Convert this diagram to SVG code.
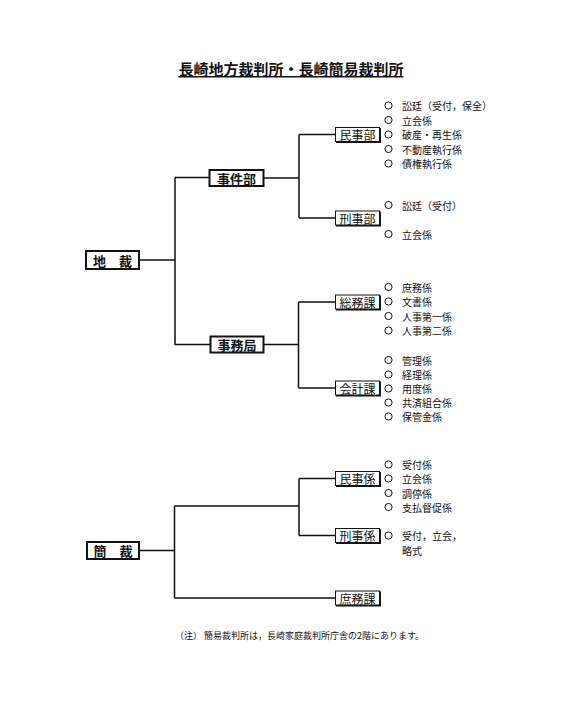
<svg xmlns="http://www.w3.org/2000/svg" width="567" height="722" viewBox="0 0 567 722">
<style>
text{font-family:"Noto Sans CJK JP","Noto Sans CJK SC",sans-serif;fill:#111;}
.title{font-size:15px;font-weight:bold;text-decoration:underline;}
.big{font-size:13px;font-weight:bold;}
.box{font-size:12px;}
.it{font-size:10px;}
.note{font-size:9px;}
.bb{fill:#fff;stroke:#111;stroke-width:2;}
.sb{fill:#fff;stroke:#111;stroke-width:1;}
.sh{fill:none;stroke:#111;stroke-width:1.5;}
.c{fill:#fff;stroke:#111;stroke-width:1;}
#connectors path{fill:none;stroke:#111;stroke-width:1.5;}
</style>
<rect width="567" height="722" fill="#fff"/>
<text class="title" x="291" y="75" text-anchor="middle">長崎地方裁判所・長崎簡易裁判所</text>

<g id="connectors">
<path d="M139 260H175M175 177.5V345M175 177.5H209.5M175 344.5H210.5"/>
<path d="M263.5 178H299M299 134.5V218M299 134.5H335.5M299 218H335.5"/>
<path d="M263.5 344.5H298.5M298.5 302V388M298.5 302H335.5M298.5 388H335.5"/>
<path d="M139 550.5H174.5M174.5 506V598M174.5 506H299M299 478.5V535.5M299 478.5H335.5M299 535.5H335.5M174.5 598H335.5"/>
</g>

<g id="chisai"><rect class="bb" x="86" y="251" width="53" height="18"/><text class="big" x="112.5" y="260" text-anchor="middle" dominant-baseline="central">地　裁</text></g>
<g id="jikenbu"><rect class="bb" x="209.5" y="170" width="54" height="16"/><text class="big" x="236.5" y="178" text-anchor="middle" dominant-baseline="central">事件部</text></g>
<g id="jimukyoku"><rect class="bb" x="210.5" y="336.5" width="53" height="16"/><text class="big" x="237" y="344.5" text-anchor="middle" dominant-baseline="central">事務局</text></g>
<g id="kansai"><rect class="bb" x="87" y="542" width="52" height="17"/><text class="big" x="113" y="550.5" text-anchor="middle" dominant-baseline="central">簡　裁</text></g>

<g id="minjibu"><rect class="sb" x="335.5" y="127.5" width="44" height="14"/><path class="sh" d="M336 142.2H380.2V128"/><text class="box" x="357.5" y="134.5" text-anchor="middle" dominant-baseline="central">民事部</text></g>
<g id="keijibu"><rect class="sb" x="335.5" y="211" width="44" height="14"/><path class="sh" d="M336 225.7H380.2V211.5"/><text class="box" x="357.5" y="218" text-anchor="middle" dominant-baseline="central">刑事部</text></g>
<g id="somuka"><rect class="sb" x="335.5" y="295" width="44" height="14"/><path class="sh" d="M336 309.7H380.2V295.5"/><text class="box" x="357.5" y="302" text-anchor="middle" dominant-baseline="central">総務課</text></g>
<g id="kaikeika"><rect class="sb" x="335.5" y="381" width="44" height="14"/><path class="sh" d="M336 395.7H380.2V381.5"/><text class="box" x="357.5" y="388" text-anchor="middle" dominant-baseline="central">会計課</text></g>
<g id="minjigakari"><rect class="sb" x="335.5" y="471.5" width="44" height="14"/><path class="sh" d="M336 486.2H380.2V472"/><text class="box" x="357.5" y="478.5" text-anchor="middle" dominant-baseline="central">民事係</text></g>
<g id="keijigakari"><rect class="sb" x="335.5" y="528.5" width="44" height="14"/><path class="sh" d="M336 543.2H380.2V529"/><text class="box" x="357.5" y="535.5" text-anchor="middle" dominant-baseline="central">刑事係</text></g>
<g id="shomuka"><rect class="sb" x="335.5" y="591" width="44" height="14"/><path class="sh" d="M336 605.7H380.2V591.5"/><text class="box" x="357.5" y="598" text-anchor="middle" dominant-baseline="central">庶務課</text></g>

<g id="items-minjibu">
<circle class="c" cx="388.5" cy="105.5" r="3.6"/><text class="it" x="402" y="105.5" dominant-baseline="central">訟廷（受付，保全）</text>
<circle class="c" cx="388.5" cy="120" r="3.6"/><text class="it" x="402" y="120" dominant-baseline="central">立会係</text>
<circle class="c" cx="388.5" cy="134.5" r="3.6"/><text class="it" x="402" y="134.5" dominant-baseline="central">破産・再生係</text>
<circle class="c" cx="388.5" cy="149" r="3.6"/><text class="it" x="402" y="149" dominant-baseline="central">不動産執行係</text>
<circle class="c" cx="388.5" cy="163.5" r="3.6"/><text class="it" x="402" y="163.5" dominant-baseline="central">債権執行係</text>
</g>
<g id="items-keijibu">
<circle class="c" cx="388.5" cy="205" r="3.6"/><text class="it" x="402" y="205" dominant-baseline="central">訟廷（受付）</text>
<circle class="c" cx="388.5" cy="234" r="3.6"/><text class="it" x="402" y="234" dominant-baseline="central">立会係</text>
</g>
<g id="items-somuka">
<circle class="c" cx="388.5" cy="287" r="3.6"/><text class="it" x="402" y="287" dominant-baseline="central">庶務係</text>
<circle class="c" cx="388.5" cy="301.5" r="3.6"/><text class="it" x="402" y="301.5" dominant-baseline="central">文書係</text>
<circle class="c" cx="388.5" cy="316" r="3.6"/><text class="it" x="402" y="316" dominant-baseline="central">人事第一係</text>
<circle class="c" cx="388.5" cy="330.5" r="3.6"/><text class="it" x="402" y="330.5" dominant-baseline="central">人事第二係</text>
</g>
<g id="items-kaikeika">
<circle class="c" cx="388.5" cy="360" r="3.6"/><text class="it" x="402" y="360" dominant-baseline="central">管理係</text>
<circle class="c" cx="388.5" cy="374.5" r="3.6"/><text class="it" x="402" y="374.5" dominant-baseline="central">経理係</text>
<circle class="c" cx="388.5" cy="388.5" r="3.6"/><text class="it" x="402" y="388.5" dominant-baseline="central">用度係</text>
<circle class="c" cx="388.5" cy="402.5" r="3.6"/><text class="it" x="402" y="402.5" dominant-baseline="central">共済組合係</text>
<circle class="c" cx="388.5" cy="416.5" r="3.6"/><text class="it" x="402" y="416.5" dominant-baseline="central">保管金係</text>
</g>
<g id="items-minjigakari">
<circle class="c" cx="388.5" cy="464.5" r="3.6"/><text class="it" x="402" y="464.5" dominant-baseline="central">受付係</text>
<circle class="c" cx="388.5" cy="478.5" r="3.6"/><text class="it" x="402" y="478.5" dominant-baseline="central">立会係</text>
<circle class="c" cx="388.5" cy="493" r="3.6"/><text class="it" x="402" y="493" dominant-baseline="central">調停係</text>
<circle class="c" cx="388.5" cy="507" r="3.6"/><text class="it" x="402" y="507" dominant-baseline="central">支払督促係</text>
</g>
<g id="items-keijigakari">
<circle class="c" cx="388.5" cy="535.5" r="3.6"/><text class="it" x="402" y="535.5" dominant-baseline="central">受付，立会，</text>
<text class="it" x="402" y="550.5" dominant-baseline="central">略式</text>
</g>

<text class="note" x="175" y="635" dominant-baseline="central">（注）  簡易裁判所は，長崎家庭裁判所庁舎の2階にあります。</text>
</svg>
